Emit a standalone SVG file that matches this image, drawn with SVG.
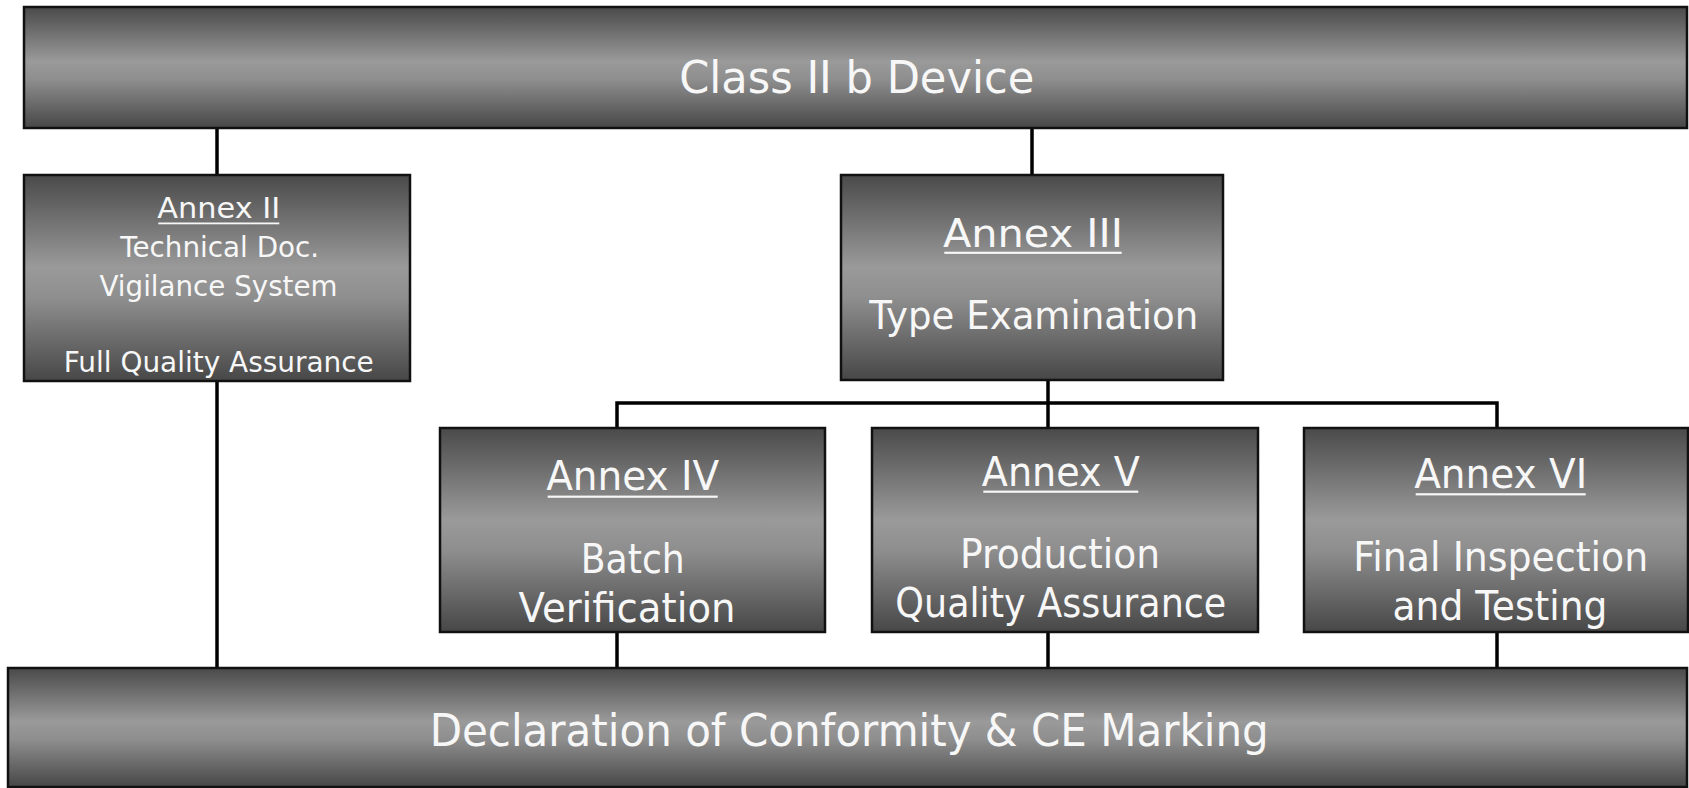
<svg xmlns="http://www.w3.org/2000/svg" width="1689" height="788" viewBox="0 0 1689 788">
<defs>
<linearGradient id="g" x1="0" y1="0" x2="0" y2="1">
<stop offset="0" stop-color="#4a4a4a"/>
<stop offset="0.45" stop-color="#9a9a9a"/>
<stop offset="0.6" stop-color="#8e8e8e"/>
<stop offset="1" stop-color="#474747"/>
</linearGradient>
</defs>
<style>
.box{fill:url(#g);stroke:#111;stroke-width:2.5}
.t{font-family:"DejaVu Sans","Liberation Sans",sans-serif;fill:#f7f7f7;text-anchor:middle}
.ul{fill:#f7f7f7}
.c{stroke:#000;stroke-width:3.5;fill:none}
</style>
<rect width="1689" height="788" fill="#fff"/>
<g id="connectors">
<line class="c" x1="217" y1="128" x2="217" y2="175"/>
<line class="c" x1="1032" y1="128" x2="1032" y2="175"/>
<line class="c" x1="217" y1="381" x2="217" y2="668"/>
<line class="c" x1="1048" y1="380" x2="1048" y2="428"/>
<polyline class="c" points="617,428 617,403 1497,403 1497,428"/>
<line class="c" x1="617" y1="632" x2="617" y2="668"/>
<line class="c" x1="1048" y1="632" x2="1048" y2="668"/>
<line class="c" x1="1497" y1="632" x2="1497" y2="668"/>
</g>
<g id="class-iib">
<rect class="box" x="24" y="7" width="1663" height="121"/>
<text class="t" x="856.7" y="93.3" font-size="45" textLength="355" lengthAdjust="spacingAndGlyphs">Class II b Device</text>
</g>
<g id="annex-ii">
<rect class="box" x="24" y="175" width="386" height="206"/>
<text class="t" x="218.8" y="218.3" font-size="29" textLength="123" lengthAdjust="spacingAndGlyphs">Annex II</text>
<rect class="ul" x="158.3" y="222.5" width="121" height="1.8"/>
<text class="t" x="219.7" y="256.7" font-size="29" textLength="199" lengthAdjust="spacingAndGlyphs">Technical Doc.</text>
<text class="t" x="218.5" y="296" font-size="29" textLength="238" lengthAdjust="spacingAndGlyphs">Vigilance System</text>
<text class="t" x="218.8" y="371.7" font-size="29" textLength="310" lengthAdjust="spacingAndGlyphs">Full Quality Assurance</text>
</g>
<g id="annex-iii">
<rect class="box" x="841" y="175" width="382" height="205"/>
<text class="t" x="1033" y="246.7" font-size="39" textLength="180" lengthAdjust="spacingAndGlyphs">Annex III</text>
<rect class="ul" x="944.3" y="251.7" width="177.4" height="2.2"/>
<text class="t" x="1033.7" y="329.3" font-size="39" textLength="329" lengthAdjust="spacingAndGlyphs">Type Examination</text>
</g>
<g id="annex-iv">
<rect class="box" x="440" y="428" width="385" height="204"/>
<text class="t" x="632.7" y="490" font-size="40" textLength="173" lengthAdjust="spacingAndGlyphs">Annex IV</text>
<rect class="ul" x="547.7" y="495.6" width="170" height="2.2"/>
<text class="t" x="632.8" y="572.7" font-size="40" textLength="104" lengthAdjust="spacingAndGlyphs">Batch</text>
<text class="t" x="627" y="621.7" font-size="40" textLength="217" lengthAdjust="spacingAndGlyphs">Verification</text>
</g>
<g id="annex-v">
<rect class="box" x="872" y="428" width="386" height="204"/>
<text class="t" x="1060.8" y="485.7" font-size="40" textLength="158" lengthAdjust="spacingAndGlyphs">Annex V</text>
<rect class="ul" x="983.3" y="490.6" width="155" height="2.2"/>
<text class="t" x="1060" y="568.3" font-size="40" textLength="200" lengthAdjust="spacingAndGlyphs">Production</text>
<text class="t" x="1060.8" y="616.7" font-size="40" textLength="331" lengthAdjust="spacingAndGlyphs">Quality Assurance</text>
</g>
<g id="annex-vi">
<rect class="box" x="1304" y="428" width="384" height="204"/>
<text class="t" x="1500.7" y="488.3" font-size="40" textLength="173" lengthAdjust="spacingAndGlyphs">Annex VI</text>
<rect class="ul" x="1415.7" y="493.2" width="170" height="2.2"/>
<text class="t" x="1500.8" y="570.7" font-size="40" textLength="295" lengthAdjust="spacingAndGlyphs">Final Inspection</text>
<text class="t" x="1500" y="620" font-size="40" textLength="215" lengthAdjust="spacingAndGlyphs">and Testing</text>
</g>
<g id="declaration">
<rect class="box" x="8" y="668" width="1679" height="119"/>
<text class="t" x="849.2" y="746" font-size="45" textLength="839" lengthAdjust="spacingAndGlyphs">Declaration of Conformity &amp; CE Marking</text>
</g>
</svg>
